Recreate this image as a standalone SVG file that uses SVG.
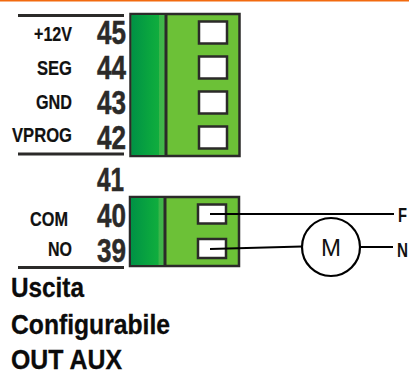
<svg xmlns="http://www.w3.org/2000/svg" width="409" height="371" viewBox="0 0 409 371">
<style>
text{font-family:"Liberation Sans",Arial,sans-serif;font-weight:bold;fill:#111}
.lb{font-size:19.5px;text-anchor:start;stroke:#111;stroke-width:.2}
.n{font-size:32.5px;fill:#2b2a29;stroke:#2b2a29;stroke-width:.5}
.t{font-size:27.5px;fill:#0b0b0b;stroke:#0b0b0b;stroke-width:.3}
.bar{stroke:#2b2a29;stroke-width:3;fill:none}
.body{fill:#6cc137;stroke:#2b2a29;stroke-width:2.5}
.sq{fill:#fff;stroke:#2b2a29;stroke-width:2.5}
.w{stroke:#000;stroke-width:2.2;fill:none}
</style>
<defs>
<linearGradient id="g" x1="0" x2="1" y1="0" y2="0">
<stop offset="0" stop-color="#009245"/><stop offset=".55" stop-color="#0aa63f"/><stop offset=".8" stop-color="#10ad3e"/><stop offset=".82" stop-color="#3cb54a"/><stop offset="1" stop-color="#44b649"/>
</linearGradient>
</defs>
<rect x="0" y="0" width="409" height="1.5" fill="#f26a0f"/>
<g id="rules">
<line class="bar" x1="18" y1="15.5" x2="124" y2="15.5"/>
<line class="bar" x1="18" y1="154" x2="124" y2="154"/>
<line class="bar" x1="18" y1="267.5" x2="124" y2="267.5"/>
</g>
<g id="terminal-top">
<rect class="body" x="130.5" y="14" width="109" height="142"/>
<rect x="131.5" y="15" width="34" height="140" fill="url(#g)"/>
<line class="bar" x1="166" y1="14" x2="166" y2="156"/>
<rect class="sq" x="199" y="21.5" width="28" height="22"/>
<rect class="sq" x="199" y="56.5" width="28" height="22"/>
<rect class="sq" x="199" y="91.5" width="28" height="22"/>
<rect class="sq" x="199" y="126.5" width="28" height="22"/>
</g>
<g id="terminal-bottom">
<rect class="body" x="130" y="197" width="109" height="69"/>
<rect x="131" y="198" width="34" height="67" fill="url(#g)"/>
<line class="bar" x1="165" y1="197" x2="165" y2="266"/>
<rect class="sq" x="198" y="204.5" width="28" height="19"/>
<rect class="sq" x="198" y="239" width="28" height="19"/>
</g>
<g id="labels">
<text class="lb" x="34" y="40.5" textLength="38" lengthAdjust="spacingAndGlyphs">+12V</text>
<text class="lb" x="37" y="74.5" textLength="35" lengthAdjust="spacingAndGlyphs">SEG</text>
<text class="lb" x="36" y="108.5" textLength="36" lengthAdjust="spacingAndGlyphs">GND</text>
<text class="lb" x="12" y="141.5" textLength="60" lengthAdjust="spacingAndGlyphs">VPROG</text>
<text class="lb" x="30" y="225.5" textLength="38" lengthAdjust="spacingAndGlyphs">COM</text>
<text class="lb" x="48" y="255.5" textLength="24" lengthAdjust="spacingAndGlyphs">NO</text>
</g>
<g id="numbers">
<text class="n" x="97" y="44" textLength="29" lengthAdjust="spacingAndGlyphs">45</text>
<text class="n" x="97" y="78.5" textLength="29" lengthAdjust="spacingAndGlyphs">44</text>
<text class="n" x="97" y="114" textLength="29" lengthAdjust="spacingAndGlyphs">43</text>
<text class="n" x="97" y="149" textLength="29" lengthAdjust="spacingAndGlyphs">42</text>
<text class="n" x="97" y="190.5" textLength="27" lengthAdjust="spacingAndGlyphs">41</text>
<text class="n" x="97" y="226.5" textLength="29" lengthAdjust="spacingAndGlyphs">40</text>
<text class="n" x="97" y="261.5" textLength="29" lengthAdjust="spacingAndGlyphs">39</text>
</g>
<g id="connectors">
<line class="w" x1="210" y1="214" x2="394" y2="214"/>
<line class="w" x1="210" y1="249" x2="302" y2="246.5"/>
<line class="w" x1="360" y1="247" x2="393" y2="247"/>
</g>
<g id="motor">
<circle cx="331" cy="247" r="29" fill="#fff" stroke="#000" stroke-width="2.2"/>
<text x="331" y="255.5" text-anchor="middle" style="font-weight:normal;font-size:24px" fill="#222">M</text>
</g>
<g id="wire-labels">
<text x="398" y="222" style="font-size:20px" textLength="9" lengthAdjust="spacingAndGlyphs">F</text>
<text x="397" y="257" style="font-size:20px" textLength="11" lengthAdjust="spacingAndGlyphs">N</text>
</g>
<g id="caption">
<text class="t" x="11" y="297" textLength="73" lengthAdjust="spacingAndGlyphs">Uscita</text>
<text class="t" x="11" y="334" textLength="159" lengthAdjust="spacingAndGlyphs">Configurabile</text>
<text class="t" x="11" y="369" textLength="111" lengthAdjust="spacingAndGlyphs">OUT AUX</text>
</g>
</svg>
